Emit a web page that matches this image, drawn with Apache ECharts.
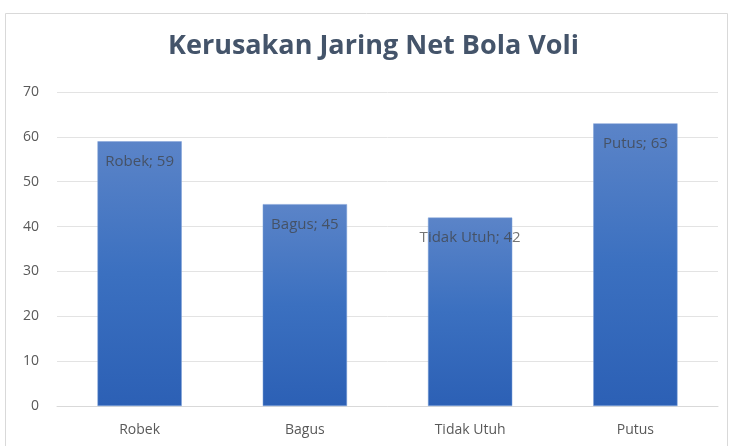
<!DOCTYPE html>
<html>
<head>
<meta charset="utf-8">
<script src="https://cdn.jsdelivr.net/npm/echarts@6/dist/echarts.min.js"></script>
<style>
  html, body { margin: 0; padding: 0; background: #fff; }
  #chart { width: 731px; height: 446px; }
</style>
</head>
<body>
<div id="chart"></div>
<script>
  // data
  var categories = ['Robek', 'Bagus', 'Tidak Utuh', 'Putus']
  var values = [59, 45, 42, 63]
  var chartTitle = 'Kerusakan Jaring Net Bola Voli'

  var font = '"Open Sans", "Noto Sans", sans-serif'
  var chart = echarts.init(document.getElementById('chart'))
  var option = {
    animation: false,
    title: {
      text: chartTitle,
      left: 163,
      top: 28,
      textStyle: { fontFamily: font, fontSize: 27, fontWeight: 'bold', color: '#44546a' }
    },
    graphic: [{
      type: 'rect',
      shape: { x: 5.5, y: 13.5, width: 722, height: 440 },
      style: { fill: 'none', stroke: '#d9d9d9', lineWidth: 1 },
      silent: true
    }],
    grid: { left: 57, right: 13, top: 92, bottom: 40 },
    xAxis: {
      type: 'category',
      data: categories,
      axisLine: { lineStyle: { color: '#d9d9d9' } },
      axisTick: { show: false },
      axisLabel: { color: '#595959', fontFamily: font, fontSize: 14, margin: 17 }
    },
    yAxis: {
      type: 'value',
      min: 0,
      max: 70,
      interval: 10,
      axisLine: { show: false },
      axisTick: { show: false },
      splitLine: { lineStyle: { color: '#e3e3e3' } },
      axisLabel: { color: '#595959', fontFamily: font, fontSize: 14, margin: 18 }
    },
    series: [{
      type: 'bar',
      data: values,
      barWidth: '51%',
      itemStyle: {
        color: new echarts.graphic.LinearGradient(0, 0, 0, 1, [
          { offset: 0, color: '#5b84c8' },
          { offset: 0.5, color: '#3b70c0' },
          { offset: 1, color: '#2c60b5' }
        ]),
        borderColor: '#7fa0d8',
        borderWidth: 0.5
      },
      label: {
        show: true,
        position: 'insideTop',
        distance: 13,
        fontFamily: font,
        fontSize: 15,
        color: 'rgba(64,64,64,0.72)',
        formatter: function (p) { return p.name + '; ' + p.value }
      }
    }]
  }
  chart.setOption(option)
  window.addEventListener('resize', () => {
    chart.resize()
  })
</script>
</body>
</html>
